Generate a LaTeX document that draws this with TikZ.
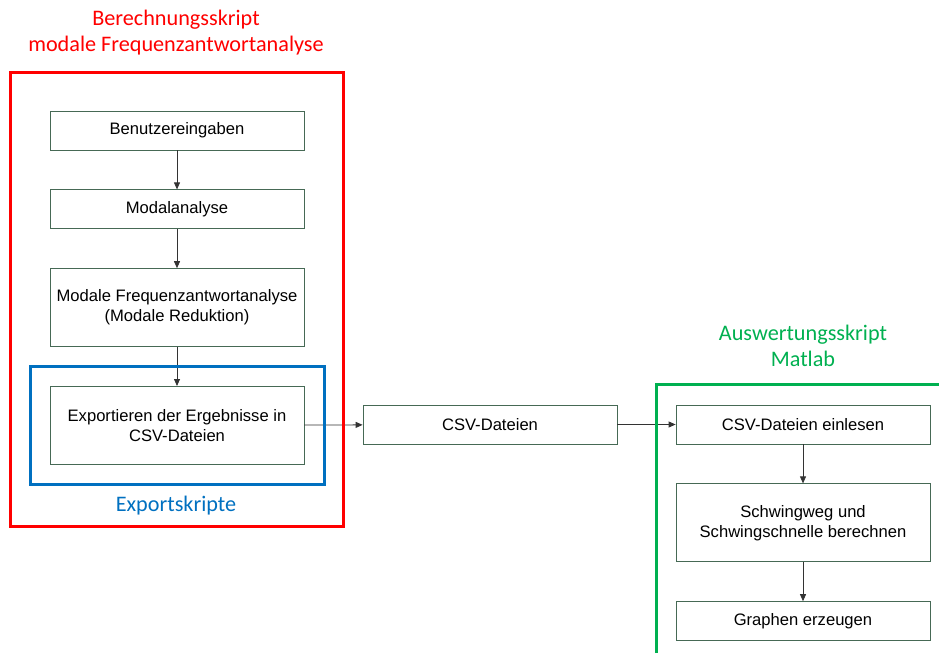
\documentclass[tikz,border=0pt]{standalone}
\usepackage{fontspec}
\setmainfont{Liberation Sans}
\newfontfamily\titlefont{Carlito}
\usetikzlibrary{positioning,arrows.meta}
\definecolor{boxline}{RGB}{70,105,85}
\definecolor{scriptred}{RGB}{255,0,0}
\definecolor{scriptblue}{RGB}{0,112,192}
\definecolor{scriptgreen}{RGB}{0,176,80}
\begin{document}
\begin{tikzpicture}[x=1pt, y=-1pt,
step box/.style={rectangle, draw=boxline, line width=0.8pt, minimum width=254pt, minimum height=39pt, align=center, font=\fontsize{16.6}{20}\selectfont, inner sep=2pt},
tall box/.style={step box, minimum height=78pt},
flow/.style={-{Triangle[length=7pt,width=6pt]}, line width=0.8pt, draw=black!80},
frame/.style={line width=3pt},
frame title/.style={font=\titlefont\fontsize{22.2}{26}\selectfont, align=center},
node distance=39pt,
]
\useasboundingbox (0,0) rectangle (939,653);

% Berechnungsskript
\node[step box] (eingabe) at (177,130.5) {Benutzereingaben};
\node[step box, below=of eingabe] (modal) {Modalanalyse};
\node[tall box, below=of modal] (frequenz) {Modale Frequenzantwortanalyse\\(Modale Reduktion)};
\node[tall box, below=of frequenz] (export) {Exportieren der Ergebnisse in\\CSV-Dateien};

% CSV
\node[step box] (csv) at (490,424.5) {CSV-Dateien};

% Auswertungsskript
\node[step box] (einlesen) at (803,424.5) {CSV-Dateien einlesen};
\node[tall box, below=of einlesen] (schwing) {Schwingweg und\\Schwingschnelle berechnen};
\node[step box, below=of schwing] (graphen) {Graphen erzeugen};

\draw[flow] (eingabe) -- (modal);
\draw[flow] (modal) -- (frequenz);
\draw[flow] (frequenz) -- (export);
\draw[flow] (export) -- (csv);
\draw[flow] (csv) -- (einlesen);
\draw[flow] (einlesen) -- (schwing);
\draw[flow] (schwing) -- (graphen);

% Rahmen
\draw[frame, scriptred] (10,72) rectangle (343,526);
\draw[frame, scriptblue] (30,366) rectangle (324,484);
\draw[frame, scriptgreen] (656,653) -- (656,384) -- (939,384);

\node[frame title, text=scriptred] (berechnung) at (176,33) {Berechnungsskript\\modale Frequenzantwortanalyse};
\node[frame title, text=scriptblue] (exportskript) at (176,506) {Exportskripte};
\node[frame title, text=scriptgreen] (auswertung) at (803,346) {Auswertungsskript\\Matlab};
\end{tikzpicture}
\end{document}
